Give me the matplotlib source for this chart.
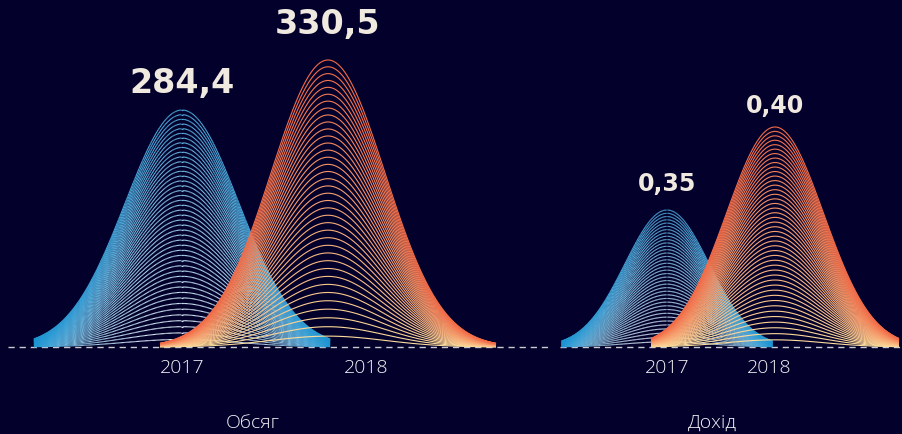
import numpy as np
import matplotlib
matplotlib.use("Agg")
import matplotlib.pyplot as plt
from matplotlib.collections import LineCollection
from matplotlib.colors import to_rgb

# data
groups = ["Обсяг", "Дохід"]
years = ["2017", "2018"]
volume = [284.4, 330.5]
income = [0.35, 0.40]
volume_text = ["284,4", "330,5"]
income_text = ["0,35", "0,40"]

BG = "#03012b"

# per group layout: px per x unit, px of 2017 centre, y axis limits
px_unit = [146, 108]
px_first = [182, 667]
y_lims = [(66.0, 386.7), (0.2675, 0.4771)]
tick_pos = [[0, 1.26], [0, 0.95]]
title_pos = [0.486, 0.417]
# curve shapes (sigma in x units, truncation in sigmas, number of lines)
sigmas = [[0.39, 0.39], [0.39, 0.45]]
truncs = [[2.6, 2.95], [2.5, 2.55]]
nlines = [[46, 38], [38, 45]]
lift = [[28, 36], [27, 22]]  # px from peak to value label centre

W, H = 902, 435
BASE = 87  # baseline, px from bottom

fig = plt.figure(figsize=(W / 100, H / 100), dpi=100)
fig.patch.set_facecolor(BG)


def mix(c1, c2, t):
    c1 = np.array(to_rgb(c1))
    c2 = np.array(to_rgb(c2))
    t = float(np.clip(t, 0, 1))
    return c1 * (1 - t) + c2 * t


def draw_curve(ax, mu, val, floor, sig, trunc, n, kind, z):
    x = np.linspace(mu - trunc * sig, mu + trunc * sig, 260)
    g = np.exp(-0.5 * ((x - mu) / sig) ** 2)
    edge = (np.abs(x - mu) / (trunc * sig)) ** 2.2
    deep = np.array(to_rgb("#1c94d2"))
    for k in range(n):
        f = ((k + 1) / n) ** 0.9
        y = floor + (val - floor) * f * g
        if kind == "blue":
            base = mix("#e8eff7", "#4aa7da", ((k + 1) / n) ** 0.9)
            cols = base[None, :] * (1 - edge[:, None]) + deep[None, :] * edge[:, None]
            pts = np.column_stack([x, y]).reshape(-1, 1, 2)
            segs = np.concatenate([pts[:-1], pts[1:]], axis=1)
            lc = LineCollection(segs, colors=cols[:-1], linewidths=0.8, zorder=z)
        else:
            col = mix("#fde4a2", "#f36c48", ((k + 1) / n) ** 0.8)
            lc = LineCollection([np.column_stack([x, y])], colors=[col],
                                linewidths=0.8, zorder=z)
        ax.add_collection(lc)


series = [volume, income]
texts = [volume_text, income_text]

for gi in range(2):
    ax = fig.add_axes([0, 0, 1, 1])
    ax.set_facecolor("none")
    ax.axis("off")
    x0 = -px_first[gi] / px_unit[gi]
    x1 = (W - px_first[gi]) / px_unit[gi]
    ax.set_xlim(x0, x1)
    lo, hi = y_lims[gi]
    # baseline sits BASE px from bottom
    span = (hi - lo) * H / (H - BASE)
    ax.set_ylim(lo - span * BASE / H, lo - span * BASE / H + span)

    if gi == 0:
        ax.axhline(lo, xmin=8 / W, xmax=548 / W, color="#c9c9d2", lw=1.0,
                   dashes=(4.5, 3.5), zorder=1)
    else:
        ax.axhline(lo, xmin=560 / W, xmax=1, color="#c9c9d2", lw=1.0,
                   dashes=(4.5, 3.5), zorder=1)

    for i, val in enumerate(series[gi]):
        draw_curve(ax, i, val, lo, sigmas[gi][i], truncs[gi][i], nlines[gi][i],
                   "blue" if i == 0 else "orange", 2 + i)
        ax.annotate(texts[gi][i], xy=(i, val), xytext=(0, lift[gi][i]),
                    textcoords="offset pixels", ha="center", va="center",
                    fontsize=24 if gi == 0 else 17, fontweight="bold",
                    color="#efe9df", family=["DejaVu Sans"], zorder=5)
        ax.annotate(years[i], xy=(tick_pos[gi][i], lo), xytext=(0, -20),
                    textcoords="offset pixels", ha="center", va="center",
                    fontsize=14, fontweight="light", color="#f2f2f6",
                    family=["Open Sans", "DejaVu Sans"])

    ax.annotate(groups[gi], xy=(title_pos[gi], lo), xytext=(0, -75),
                textcoords="offset pixels", ha="center", va="center",
                fontsize=14, fontweight="light", color="#f4f4f8",
                family=["Open Sans", "DejaVu Sans"])

fig.savefig("out.png", dpi=100, facecolor=BG)
